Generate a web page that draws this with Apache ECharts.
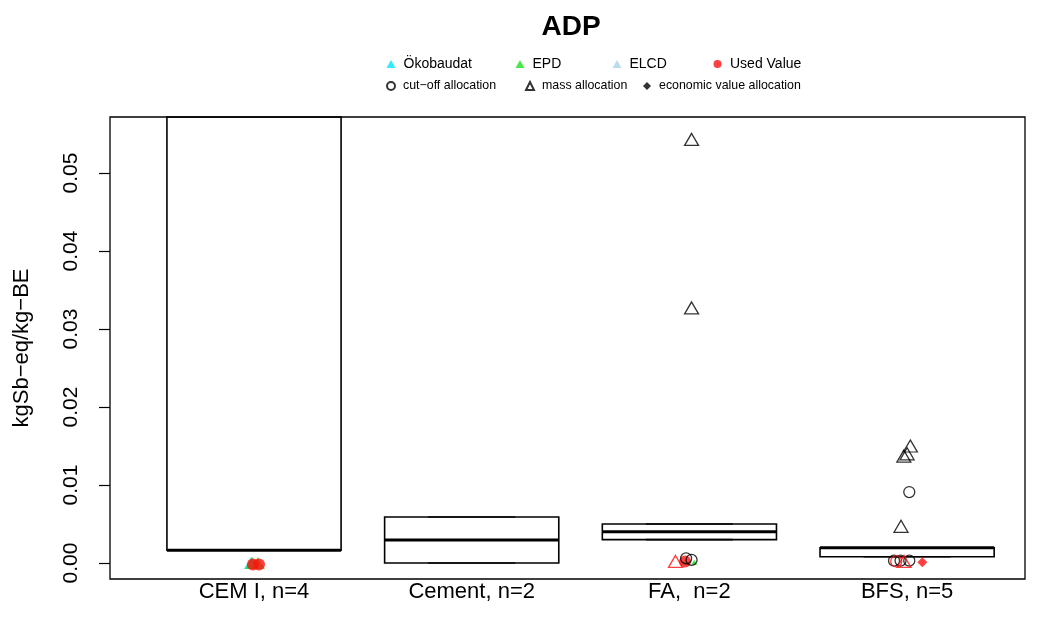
<!DOCTYPE html>
<html><head><meta charset="utf-8">
<script src="https://cdn.jsdelivr.net/npm/echarts@6/dist/echarts.min.js"></script>
<style>html,body{margin:0;padding:0;background:#fff}#c{width:1040px;height:629px}</style>
</head><body><div id="c"></div>
<script>
// ---------- data ----------
const categories = ['CEM I, n=4', 'Cement, n=2', 'FA,  n=2', 'BFS, n=5'];
const yTicks = [0, 0.01, 0.02, 0.03, 0.04, 0.05];
// box statistics per category
const boxLower  = [0.00165, 0.0000, 0.0030, 0.00081];
const boxQ1     = [0.00165, 0.0000, 0.0030, 0.00081];
const boxMedian = [0.00165, 0.00295, 0.0040, 0.00196];
const boxQ3     = [0.1000, 0.0059, 0.0050, 0.00196];
const boxUpper  = [0.1000, 0.0059, 0.0050, 0.00196];
// points: [category index + jitter, value]
const okobaudatPts = [[-0.012, 0.0000]];
const epdPts       = [[-0.008, 0.0000], [0.018, 0.0000]];
const epdSmallPts  = [[1.98, 0.0001], [2.022, 0.0001]];
const elcdPts      = [[-0.015, 0.0000]];
const usedPts      = [[-0.005, -0.0002], [0.023, -0.0002], [1.98, 0.0002]];
const cutoffPts    = [[1.985, 0.0006], [2.01, 0.0004], [2.94, 0.0003], [2.97, 0.0003], [3.01, 0.0003], [3.01, 0.0091]];
const massPts      = [[2.01, 0.0543], [2.01, 0.0327], [3.015, 0.0150], [2.985, 0.0137], [3.0, 0.0140], [2.972, 0.0047]];
const usedCutoffPts = [[2.95, 0.0002]];
const usedMassPts   = [[1.936, 0.0002], [2.986, 0.0002]];
const usedEconPts   = [[3.07, 0.0001]];

// ---------- styles ----------
const BOX_HALF = 0.4, STAPLE_HALF = 0.2;
const FONT = '"Liberation Sans", Arial, Helvetica, sans-serif';
const COL_OKO = '#00E5FF', COL_EPD = '#22E022', COL_ELCD = '#A9D3E6', COL_RED = '#FF1010';

const boxData = categories.map((c, i) => [i, boxLower[i], boxQ1[i], boxMedian[i], boxQ3[i], boxUpper[i]]);

function renderBox(params, api) {
  const cs = params.coordSys;
  const area = {x: cs.x, y: cs.y, width: cs.width, height: cs.height};
  const x = api.value(0);
  const lo = api.value(1), q1 = api.value(2), md = api.value(3), q3 = api.value(4), hi = api.value(5);
  const pTL = api.coord([x - BOX_HALF, q3]);
  const pBR = api.coord([x + BOX_HALF, q1]);
  const rect = echarts.graphic.clipRectByRect(
    {x: pTL[0], y: pTL[1], width: pBR[0] - pTL[0], height: pBR[1] - pTL[1]}, area);
  const children = [];
  const addLine = (a, b, st) => {
    const pts = echarts.graphic.clipPointsByRect([a, b], area);
    children.push({type: 'line', shape: {x1: pts[0][0], y1: pts[0][1], x2: pts[1][0], y2: pts[1][1]}, style: st});
  };
  if (hi > q3) {
    addLine(api.coord([x, q3]), api.coord([x, hi]), {stroke: '#000', lineWidth: 1.2, lineDash: [4, 3]});
  }
  if (lo < q1) {
    addLine(api.coord([x, q1]), api.coord([x, lo]), {stroke: '#000', lineWidth: 1.2, lineDash: [4, 3]});
  }
  if (hi <= 0.06) addLine(api.coord([x - STAPLE_HALF, hi]), api.coord([x + STAPLE_HALF, hi]), {stroke: '#222', lineWidth: 1.6});
  addLine(api.coord([x - STAPLE_HALF, lo]), api.coord([x + STAPLE_HALF, lo]), {stroke: '#222', lineWidth: 1.6});
  if (rect) children.push({type: 'rect', shape: rect, style: {stroke: '#000', lineWidth: 1.6, fill: null}});
  addLine(api.coord([x - BOX_HALF, md]), api.coord([x + BOX_HALF, md]), {stroke: '#000', lineWidth: 3});
  return {type: 'group', children};
}

const openStyle = (c) => ({color: 'rgba(0,0,0,0)', borderColor: c, borderWidth: 1.3});
const TRI = [14, 12];

const option = {
  animation: false,
  backgroundColor: '#fff',
  textStyle: {fontFamily: FONT},
  title: {
    text: 'ADP', left: 566, top: 8, textAlign: 'center',
    textStyle: {fontSize: 28, fontWeight: 'bold', color: '#000', fontFamily: FONT}
  },
  legend: [
    {data: ['Ökobaudat'], left: 386.5, top: 57},
    {data: ['EPD'], left: 515.5, top: 57},
    {data: ['ELCD'], left: 612.5, top: 57},
    {data: ['Used Value'], left: 713.5, top: 57},
    {data: ['cut\u2212off allocation'], left: 386, top: 80},
    {data: ['mass allocation'], left: 525, top: 80},
    {data: ['economic value allocation'], left: 643, top: 80}
  ].map((l, i) => Object.assign({
    selectedMode: false, itemWidth: i < 4 ? 9 : 8, itemHeight: 8, padding: 0,
    textStyle: {fontSize: i < 4 ? 14 : 12.4, color: '#000', fontFamily: FONT, padding: [0, 0, 0, 3]}
  }, l)),
  grid: {left: 110, right: 15, top: 117, bottom: 50, show: true, borderColor: '#000', borderWidth: 1.3, backgroundColor: 'transparent'},
  xAxis: {
    type: 'value', min: -0.6615, max: 3.5416,
    splitLine: {show: false}, axisLine: {show: false, onZero: false}, axisTick: {show: false},
    axisLabel: {customValues: [0, 1, 2, 3], formatter: v => categories[Math.round(v)], fontSize: 22, color: '#000', margin: 2, fontFamily: FONT}
  },
  yAxis: {
    type: 'value', min: -0.00205, max: 0.05718,
    name: 'kgSb\u2212eq/kg\u2212BE', nameLocation: 'middle', nameGap: 77, nameRotate: 90,
    nameTextStyle: {fontSize: 22, color: '#000', fontFamily: FONT},
    splitLine: {show: false}, axisLine: {show: false, onZero: false},
    axisTick: {show: true, customValues: yTicks, length: 11, lineStyle: {color: '#000', width: 1.2}},
    axisLabel: {customValues: yTicks, formatter: v => v.toFixed(2), rotate: 90, fontSize: 21, color: '#000', margin: 28, fontFamily: FONT}
  },
  series: [
    {type: 'custom', name: 'boxes', data: boxData, renderItem: renderBox, encode: {x: 0, y: [1, 2, 3, 4, 5]}, z: 2, silent: true},
    {type: 'scatter', name: 'ELCD', data: elcdPts, symbol: 'triangle', symbolSize: TRI, itemStyle: {color: COL_ELCD}, z: 3},
    {type: 'scatter', name: 'Ökobaudat', data: okobaudatPts, symbol: 'triangle', symbolSize: TRI, itemStyle: {color: COL_OKO}, z: 3},
    {type: 'scatter', name: 'EPD', data: epdPts, symbol: 'triangle', symbolSize: TRI, itemStyle: {color: COL_EPD}, z: 3},
    {type: 'scatter', name: 'EPD small', data: epdSmallPts, symbol: 'triangle', symbolSize: [6, 5], itemStyle: {color: COL_EPD}, z: 3},
    {type: 'scatter', name: 'Used Value', data: usedPts, symbol: 'circle', symbolSize: 12, itemStyle: {color: COL_RED}, z: 3},
    {type: 'scatter', name: 'cut\u2212off allocation', data: cutoffPts, symbol: 'circle', symbolSize: 11, itemStyle: openStyle('#000'), z: 3},
    {type: 'scatter', name: 'mass allocation', data: massPts, symbol: 'triangle', symbolSize: TRI, itemStyle: openStyle('#000'), z: 3},
    {type: 'scatter', name: 'economic value allocation', data: [], symbol: 'diamond', symbolSize: 7, itemStyle: {color: '#000'}, z: 3},
    {type: 'scatter', name: 'used cut-off', data: usedCutoffPts, symbol: 'circle', symbolSize: 11, itemStyle: openStyle(COL_RED), z: 3},
    {type: 'scatter', name: 'used mass', data: usedMassPts, symbol: 'triangle', symbolSize: TRI, itemStyle: openStyle(COL_RED), z: 3},
    {type: 'scatter', name: 'used economic', data: usedEconPts, symbol: 'diamond', symbolSize: 10, itemStyle: {color: COL_RED}, z: 3}
  ]
};
const chart = echarts.init(document.getElementById('c'), null, {renderer: 'canvas'});
chart.setOption(option);
</script></body></html>
